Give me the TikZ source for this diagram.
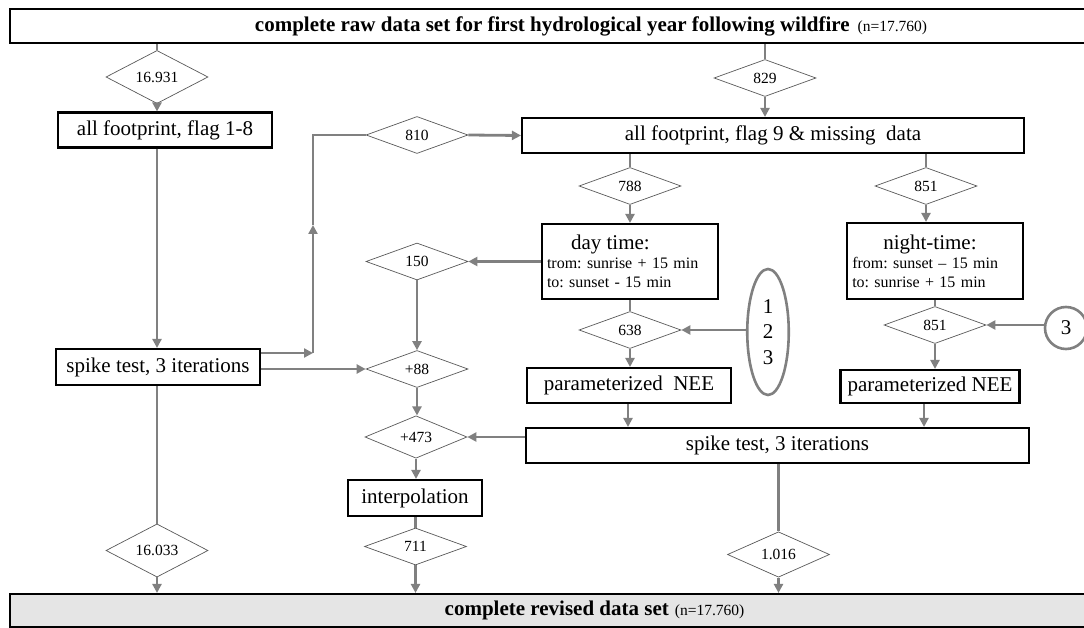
\documentclass[tikz,border=0pt]{standalone}
\usepackage{fontspec}
\setmainfont{Liberation Serif}
\usetikzlibrary{shapes.geometric,arrows.meta}
\frenchspacing

\begin{document}
\begin{tikzpicture}[x=1pt, y=-1pt,
    box/.style={rectangle,draw,line width=2.1pt,fill=white,inner sep=0pt,font=\fontsize{21}{24}\selectfont},
    count/.style={diamond,draw=black!65,line width=0.7pt,fill=white,inner sep=0pt,minimum width=102pt,minimum height=37pt,font=\fontsize{15.5}{18}\selectfont},
    ring/.style={draw=black!50,line width=2.6pt,fill=white,inner sep=0pt,font=\fontsize{21}{25.5}\selectfont},
    flow/.style={draw=black!50,line width=2.8pt,-{Triangle[length=9pt,width=9pt]}},
    link/.style={draw=black!50,line width=2.8pt}]
                \useasboundingbox (0,0) rectangle (1084,628);
                % Data sets (top and bottom bars)
                \node[box, minimum width=1162pt, minimum height=34pt] (raw) at (591,26)
                    {\textbf{complete raw data set for first hydrological year following wildfire}\hspace{8pt}{\fontsize{15.5}{18}\selectfont (n=17.760)}};
                \node[box, fill=black!10, minimum width=1169pt, minimum height=33pt] (revised) at (594.5,610.5)
                    {\textbf{complete revised data set}\hspace{6pt}{\fontsize{15.5}{18}\selectfont (n=17.760)}};
                % Left branch: flag 1-8
                \node[count] (d16931) at (157,77) {16.931};
                \node[box, minimum width=214pt, minimum height=35pt] (flagA) at (165,130) {all footprint, flag 1-8};
                \node[box, minimum width=204pt, minimum height=36pt] (spikeL) at (158,367) {spike test, 3 iterations};
                \node[count] (d16033) at (157,550.5) {16.033};
                % Middle column of counts
                \node[count] (d810) at (417,135) {810};
                \node[count] (d150) at (417,261.5) {150};
                \node[count] (d88) at (417,369) {+88};
                \node[count] (d473) at (416,437) {+473};
                \node[box, minimum width=134pt, minimum height=36pt] (interp) at (415,498) {interpolation};
                \node[count] (d711) at (415.5,546.5) {711};
                % Right branch: flag 9 and missing data
                \node[count] (d829) at (765,78) {829};
                \node[box, minimum width=502pt, minimum height=35pt] (flagB) at (773,135.5) {all footprint, flag 9 \& missing\ \ data};
                \node[count] (d788) at (630,186) {788};
                \node[count] (d851a) at (926,186) {851};
                \node[box, text width=166pt, inner xsep=5pt, minimum height=75pt, align=left, font=\fontsize{16}{19}\selectfont] (day) at (630,261.5)
                    {\hspace*{24pt}{\fontsize{21}{19}\selectfont day time:}\\ trom: sunrise + 15 min\\ to: sunset - 15 min};
                \node[box, text width=165.5pt, inner xsep=5pt, minimum height=76pt, align=left, font=\fontsize{16}{19}\selectfont] (night) at (935,261)
                    {\hspace*{31pt}{\fontsize{21}{19}\selectfont night-time:}\\ from: sunset -- 15 min\\ to: sunrise + 15 min};
                \node[count] (d638) at (630,330) {638};
                \node[count] (d851b) at (935,325) {851};
                \node[ring, ellipse, minimum width=41.5pt, minimum height=126pt, align=center] (abc) at (768,332) {1\\2\\3};
                \node[ring, circle, minimum size=42pt] (three) at (1066,328) {3};
                \node[box, minimum width=204pt, minimum height=35pt] (neeL) at (629,385.5) {parameterized\ \ NEE};
                \node[box, minimum width=179pt, minimum height=33pt] (neeR) at (930,386.5) {parameterized NEE};
                \node[box, minimum width=503pt, minimum height=35pt] (spikeR) at (777.5,445.5) {spike test, 3 iterations};
                \node[count] (d1016) at (778.5,554.5) {1.016};
                % Bends of the loop back to flag 9
                \coordinate (bendlow) at (313,353);
                \coordinate (bendmid) at (313,225);
                \coordinate (bendtop) at (313,135);
                % Connectors, left branch
                \draw[link] (raw.south -| d16931) -- (d16931.north);
                \draw[flow] (d16931.south) -- (d16931.south |- flagA.north);
                \draw[flow] (flagA.south -| d16931) -- (d16931 |- spikeL.north);
                \draw[link] (spikeL.south -| d16931) -- (d16033.north);
                \draw[flow] (d16033.south) -- (d16033.south |- revised.north);
                \draw[flow] (spikeL.east |- bendlow) -- (bendlow);
                \draw[flow] (bendlow) -- (bendmid);
                \draw[link] (bendmid) -- (bendtop) -- (d810.west);
                \draw[flow] (d810.east) -- (flagB.west);
                \draw[flow] (spikeL.east |- d88.west) -- (d88.west);
                % Connectors, flag 9 branch
                \draw[link] (raw.south -| d829) -- (d829.north);
                \draw[flow] (d829.south) -- (d829.south |- flagB.north);
                \draw[link] (flagB.south -| d788) -- (d788.north);
                \draw[flow] (d788.south) -- (d788.south |- day.north);
                \draw[link] (flagB.south -| d851a) -- (d851a.north);
                \draw[flow] (d851a.south) -- (d851a.south |- night.north);
                \draw[flow] (day.west |- d150.east) -- (d150.east);
                \draw[flow] (d150.south) -- (d88.north);
                \draw[link] (day.south -| d638) -- (d638.north);
                \draw[flow] (abc.west |- d638.east) -- (d638.east);
                \draw[flow] (d638.south) -- (d638.south |- neeL.north);
                \draw[link] (night.south -| d851b) -- (d851b.north);
                \draw[flow] (three.west |- d851b.east) -- (d851b.east);
                \draw[flow] (d851b.south) -- (d851b.south |- neeR.north);
                \draw[flow] ([xshift=-1pt]neeL.south) -- ([xshift=-1pt]neeL.south |- spikeR.north);
                \draw[flow] ([xshift=-6pt]neeR.south) -- ([xshift=-6pt]neeR.south |- spikeR.north);
                % Connectors to the revised data set
                \draw[flow] (d88.south) -- (d88.south |- d473.north);
                \draw[flow] (spikeR.west |- d473.east) -- (d473.east);
                \draw[flow] (d473.south) -- (d473.south |- interp.north);
                \draw[link] (interp.south -| d711) -- (d711.north);
                \draw[flow] (d711.south) -- (d711.south |- revised.north);
                \draw[link] (spikeR.south -| d1016) -- (d1016.north);
                \draw[flow] (d1016.south) -- (d1016.south |- revised.north);
            \end{tikzpicture}
\end{document}
